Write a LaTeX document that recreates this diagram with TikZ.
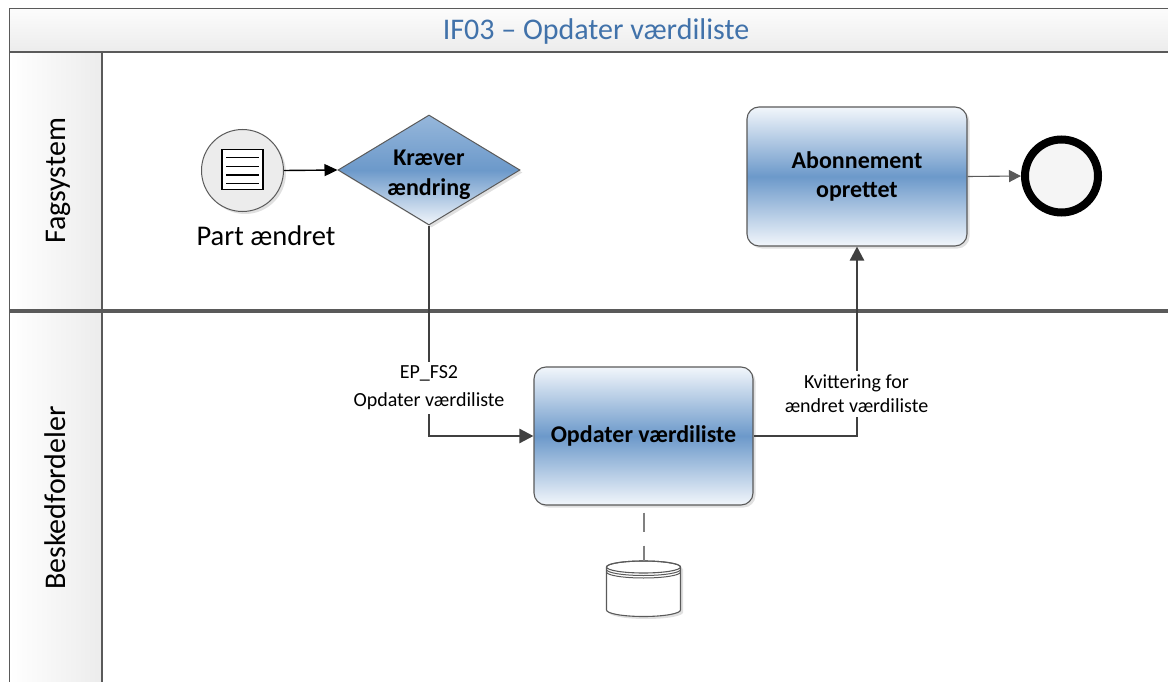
\documentclass[tikz,border=0pt]{standalone}
\usepackage{fontspec}
\setmainfont{Carlito}
\usetikzlibrary{arrows.meta,shapes.geometric,shadows}
\definecolor{frame}{RGB}{90,90,90}
\definecolor{titleblue}{RGB}{65,114,170}
\definecolor{taskmid}{RGB}{108,153,202}
\definecolor{tasklight}{RGB}{242,246,251}
\definecolor{gwtop}{RGB}{150,183,219}
\definecolor{conn}{RGB}{64,64,64}
\definecolor{evgray}{RGB}{236,236,236}
\definecolor{barright}{RGB}{236,236,236}
\definecolor{bartop}{RGB}{252,252,252}
\definecolor{barbottom}{RGB}{236,236,236}
\definecolor{assocgray}{RGB}{128,128,128}
\begin{document}
\begin{tikzpicture}[x=1pt,y=-1pt,
  lanebox/.style={draw=frame,line width=1.3pt},
  lanebar/.style={draw=frame,line width=1.3pt,left color=white,right color=barright},
  titlebar/.style={draw=frame,line width=1.3pt,top color=bartop,bottom color=barbottom},
  titletext/.style={font=\fontsize{30}{36}\selectfont,text=titleblue,inner sep=0pt},
  lanetext/.style={font=\fontsize{30}{36}\selectfont,inner sep=0pt,rotate=90,anchor=base},
  softshadow/.style={drop shadow={shadow xshift=2.5pt,shadow yshift=-2.5pt,fill=black,opacity=0.12}},
  task/.style={rectangle,rounded corners=12pt,draw=frame,line width=1.1pt,
    top color=tasklight,bottom color=tasklight,middle color=taskmid,
    font=\fontsize{24}{29.5}\selectfont\bfseries,align=center,softshadow,inner sep=0pt},
  gateway/.style={diamond,draw=frame,line width=1pt,shape aspect=1.65,inner sep=0pt,
    minimum width=182pt,minimum height=110pt,
    top color=gwtop,bottom color=tasklight,middle color=taskmid,softshadow},
  gwtext/.style={font=\fontsize{24}{29.5}\selectfont\bfseries,align=center,inner sep=0pt,yshift=-5pt},
  startev/.style={circle,draw=frame,line width=1pt,fill=evgray,minimum size=82pt,inner sep=0pt,softshadow},
  endev/.style={circle,draw=black,line width=8pt,fill=evgray!50,minimum size=73pt,inner sep=0pt,softshadow},
  evlabel/.style={font=\fontsize{28.5}{34}\selectfont,inner sep=0pt,anchor=base},
  lbl/.style={fill=white,inner xsep=2pt,inner ysep=4pt,align=center},
  flow/.style={draw=conn,line width=2.5pt,-{Triangle[length=14pt,width=14pt]}},
  thinflow/.style={draw=black,line width=1.4pt,-{Triangle[length=13pt,width=12pt]}},
  endflow/.style={draw=frame,line width=1.1pt,-{Triangle[length=12pt,width=12pt]}},
  assoc/.style={draw=assocgray,line width=2pt,dash pattern=on 19pt off 14pt,shorten <=7pt},
  dbnode/.style={rectangle,minimum width=74pt,minimum height=56pt,inner sep=0pt}
]
\useasboundingbox (0,0) rectangle (1168,682);
\fill[white] (0,0) rectangle (1168,682);

% pool title
\path[titlebar] (9.5,8.5) rectangle (1180,52);
\node[titletext,anchor=base] (title) at (596,39.3) {IF03 – Opdater værdiliste};

% lane 1
\path[lanebox] (9.5,52) rectangle (1180,310);
\path[lanebar] (9.5,52) rectangle (102,310);
\node[lanetext] (lane1) at (65.5,181) {Fagsystem};

% lane 2
\path[lanebox] (9.5,312) rectangle (1180,700);
\path[lanebar] (9.5,312) rectangle (102,700);
\node[lanetext] (lane2) at (65.5,498) {Beskedfordeler};

% start event
\node[startev] (start) at (242.5,170.5) {};
\draw[black,line width=1.2pt,fill=white] (222,149.5) rectangle (263,189.5);
\foreach \yy in {157.5,166.5,175,183.5}
  \draw[black,line width=1.2pt] (226,\yy) -- (259,\yy);
\node[evlabel] (startlbl) at (266,245) {Part ændret};

% gateway
\node[gateway,label={[gwtext]center:Kræver\\ændring}] (gw) at (429,170) {};

% tasks
\node[task,minimum width=219pt,minimum height=138pt] (t1) at (643.5,436) {Opdater værdiliste};
\node[task,minimum width=220pt,minimum height=139pt] (t2) at (857,176.5) {Abonnement\\oprettet};

% end event
\node[endev] (end) at (1061.5,176) {};

% data store
\node[dbnode] (db) at (643.5,589) {};
\filldraw[draw=frame,line width=1.1pt,fill=white,drop shadow={shadow xshift=2.5pt,shadow yshift=-2.5pt,fill=black,opacity=0.12}]
  (606.5,567) -- (606.5,610) arc[start angle=180,end angle=0,x radius=37,y radius=6.5]
  -- (680.5,567) arc[start angle=0,end angle=-180,x radius=37,y radius=6] -- cycle;
\draw[frame,line width=1.1pt] (643.5,567) ellipse[x radius=37,y radius=6];
\draw[frame,line width=1pt] (606.5,569.5) arc[start angle=180,end angle=0,x radius=37,y radius=6];
\draw[frame,line width=1pt] (606.5,572) arc[start angle=180,end angle=0,x radius=37,y radius=6];

% connectors
\draw[thinflow] (start.east) -- (gw.west);
\draw[flow] (gw.south) |- (t1.west);
\draw[flow] (t1.east) -| (t2.south);
\draw[endflow] (t2.east) -- (end.west);
\draw[assoc] (t1.south) -- (db.north);

% labels
\node[lbl,font=\fontsize{20}{28}\selectfont] (lab1) at (429,387.7) {EP\_FS2\\Opdater værdiliste};
\node[lbl,font=\fontsize{20}{24}\selectfont] (lab2) at (856.5,394) {Kvittering for\\ændret værdiliste};
\end{tikzpicture}
\end{document}
